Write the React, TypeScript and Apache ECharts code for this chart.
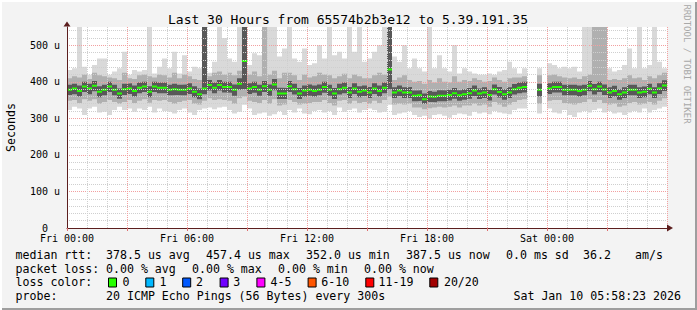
import React, { useEffect, useRef } from 'react';
import * as echarts from 'echarts';

// ---- data (values in microseconds, one bin = 15 minutes, 120 bins = 30 hours) ----
const BIN_HOURS = 0.25;

const medianRtt = [
  378, 382, 375, 387, 382, 389, 373, 378, 387, 378,
  368, 380, 382, 375, 384, 387, 373, 387, 384, 384,
  378, 380, 378, 378, 382, 373, 366, 382, 391, 384,
  391, 386, 386, 378, 395, 457, 382, 386, 378, 388,
  378, 393, 368, 368, 388, 380, 368, 376, 378, 375,
  378, 386, 378, 368, 380, 384, 371, 382, 373, 376,
  371, 382, 375, 384, 434, 371, 376, 371, 371, 362,
  363, 352, 360, 359, 362, 362, 364, 369, 363, 366,
  369, 376, 368, 371, 364, 380, 372, 366, 371, 380,
  384, 386, null, null, 378, null, 382, 386, 386, 378,
  378, 378, 375, 378, 389, 380, 387, 379, 371, 375,
  366, 371, 378, 378, 371, 373, 381, 371, 382, 390,
];

const smokeMax = [
  432, 437, 560, 441, 419, 446, 464, 464, 419, 428,
  437, 482, 419, 432, 428, 432, 560, 423, 441, 464,
  437, 482, 423, 473, 428, 441, 437, 560, 425, 455,
  560, 520, 464, 455, 560, 560, 446, 478, 473, 560,
  560, 560, 469, 491, 560, 464, 455, 491, 446, 451,
  500, 464, 560, 473, 482, 464, 560, 482, 560, 455,
  464, 482, 500, 560, 560, 469, 455, 500, 437, 464,
  437, 428, 560, 437, 473, 437, 428, 500, 423, 437,
  428, 423, 419, 419, 423, 419, 428, 432, 455, 437,
  423, 437, null, null, 437, null, 451, 446, 437, 441,
  437, 441, 428, 560, 560, 560, 560, 560, 437, 428,
  432, 446, 491, 437, 560, 437, 446, 560, 455, 437,
];

const smokeHi2 = [
  410, 415, 412, 420, 408, 425, 418, 415, 412, 410,
  405, 425, 410, 408, 418, 420, 415, 412, 420, 418,
  412, 425, 410, 420, 415, 408, 405, 560, 415, 425,
  428, 420, 425, 418, 430, 560, 420, 428, 415, 560,
  420, 430, 410, 425, 425, 418, 405, 420, 412, 415,
  425, 420, 418, 410, 415, 422, 410, 420, 415, 410,
  410, 418, 425, 420, 560, 405, 412, 418, 405, 400,
  402, 395, 405, 398, 410, 400, 398, 415, 400, 405,
  402, 410, 405, 400, 402, 412, 405, 400, 410, 412,
  412, 415, null, null, 418, null, 418, 420, 415, 412,
  410, 412, 408, 415, 420, 560, 560, 560, 405, 408,
  405, 410, 418, 410, 412, 405, 415, 410, 418, 425,
];

const smokeHi1 = [
  392, 395, 390, 400, 395, 402, 388, 392, 400, 392,
  382, 395, 396, 390, 398, 400, 388, 400, 398, 398,
  392, 395, 392, 393, 396, 388, 382, 560, 405, 398,
  405, 400, 400, 393, 410, 560, 396, 400, 392, 402,
  393, 408, 384, 383, 402, 395, 383, 390, 393, 390,
  393, 400, 392, 383, 395, 398, 386, 396, 388, 390,
  386, 396, 390, 398, 560, 385, 390, 385, 386, 376,
  377, 368, 375, 373, 377, 376, 378, 383, 377, 380,
  383, 390, 382, 385, 378, 393, 386, 380, 385, 394,
  398, 400, null, null, 395, null, 396, 400, 400, 392,
  392, 392, 390, 392, 402, 394, 400, 393, 385, 389,
  380, 385, 392, 392, 385, 387, 395, 385, 396, 404,
];

const smokeLo1 = [
  364, 366, 360, 372, 366, 374, 358, 363, 372, 363,
  354, 364, 367, 360, 369, 372, 358, 372, 369, 369,
  363, 364, 363, 363, 367, 358, 352, 366, 376, 369,
  376, 371, 370, 362, 378, 380, 367, 370, 362, 372,
  362, 377, 353, 353, 372, 365, 353, 360, 362, 360,
  363, 370, 362, 353, 365, 369, 356, 367, 358, 361,
  356, 367, 360, 369, 380, 356, 361, 356, 356, 347,
  348, 340, 345, 344, 347, 347, 349, 354, 348, 351,
  354, 361, 353, 356, 349, 365, 357, 351, 356, 365,
  369, 371, null, null, 360, null, 367, 371, 371, 363,
  363, 363, 360, 363, 374, 365, 372, 364, 356, 360,
  351, 356, 363, 363, 356, 358, 366, 356, 367, 375,
];

const smokeLo2 = [
  348, 350, 342, 352, 348, 352, 340, 345, 350, 345,
  340, 345, 350, 342, 348, 352, 343, 350, 348, 350,
  345, 340, 345, 348, 350, 340, 338, 348, 355, 350,
  352, 350, 348, 340, 355, 360, 348, 345, 342, 350,
  340, 352, 335, 338, 350, 345, 338, 340, 342, 345,
  345, 350, 342, 335, 348, 350, 340, 348, 342, 345,
  340, 348, 342, 350, 360, 338, 340, 338, 340, 330,
  330, 325, 328, 330, 332, 330, 332, 335, 330, 335,
  335, 340, 335, 338, 332, 345, 338, 332, 338, 345,
  350, 352, null, null, 340, null, 348, 350, 350, 342,
  340, 338, 342, 345, 352, 345, 350, 342, 338, 340,
  332, 335, 342, 345, 338, 340, 345, 338, 348, 355,
];

const smokeMin = [
  323, 332, 327, 309, 327, 332, 316, 318, 309, 323,
  332, 323, 327, 318, 327, 323, 332, 316, 327, 320,
  318, 313, 323, 327, 316, 309, 323, 327, 330, 325,
  330, 332, 323, 313, 318, 337, 327, 309, 313, 316,
  307, 311, 320, 309, 323, 316, 327, 313, 311, 320,
  323, 316, 320, 309, 330, 318, 323, 327, 316, 323,
  327, 323, 316, 318, 337, 309, 313, 316, 320, 309,
  304, 307, 299, 309, 311, 307, 302, 309, 313, 311,
  307, 318, 313, 316, 311, 320, 316, 313, 311, 323,
  327, 327, null, null, 313, null, 327, 316, 313, 323,
  309, 304, 316, 320, 316, 323, 327, 316, 320, 313,
  316, 309, 316, 320, 316, 327, 316, 323, 327, 332,
];

const xTickHours = [0, 6, 12, 18, 24];
const xTickLabels = ['Fri 00:00', 'Fri 06:00', 'Fri 12:00', 'Fri 18:00', 'Sat 00:00'];
const yTickValues = [0, 100, 200, 300, 400, 500];
const yTickLabels = ['0', '100 u', '200 u', '300 u', '400 u', '500 u'];

const lossLabels = ['0', '1', '2', '3', '4-5', '6-10', '11-19', '20/20'];
const lossColors = ['#26ff00', '#00b8ff', '#0059ff', '#7000ff', '#ff00ff', '#ff5500', '#ff0000', '#a10000'];

// ---- helpers ----
const MONO = "'DejaVu Sans Mono', monospace";

function stepData(arr: (number | null)[]) {
  const out: any[] = [];
  arr.forEach((v, i) => {
    const x0 = i * BIN_HOURS;
    const x1 = (i + 1) * BIN_HOURS;
    if (v == null) {
      out.push([x0, null]);
      return;
    }
    out.push([x0, v], [x1, v]);
  });
  return out;
}

function dashData(arr: (number | null)[]) {
  const out: any[] = [];
  arr.forEach((v, i) => {
    const x0 = i * BIN_HOURS;
    const x1 = (i + 1) * BIN_HOURS;
    if (v == null) return;
    out.push([x0, v], [x1, v], [x1, null]);
  });
  return out;
}

function band(name: string, arr: (number | null)[], color: string) {
  return {
    name,
    type: 'line',
    data: stepData(arr),
    symbol: 'none',
    showSymbol: false,
    silent: true,
    connectNulls: false,
    lineStyle: { width: 0, opacity: 0 },
    areaStyle: { color, opacity: 1, origin: 'start' },
    z: 2,
  };
}

function txt(text: string, x: number, y: number, extra: any = {}) {
  return {
    type: 'text',
    x,
    y,
    silent: true,
    style: {
      text,
      fontFamily: MONO,
      fontSize: 11.6,
      fill: '#000',
      verticalAlign: 'middle',
      align: 'left',
      ...extra,
    },
    z: 10,
  };
}

const RED_GRID = '#f2a0a0';
const GREY_GRID = '#cfcfcf';
const AXIS_COL = '#5c1e1e';

export default function App() {
  const ref = useRef<HTMLDivElement>(null);

  useEffect(() => {
    const chart = echarts.init(ref.current!, null, { renderer: 'svg', width: 697, height: 310 });

    const graphics: any[] = [];
    graphics.push(
      txt('Last 30 Hours from 65574b2b3e12 to 5.39.191.35', 348, 19.3, { fontSize: 13, align: 'center' })
    );
    graphics.push({
      type: 'text',
      x: 11,
      y: 127.5,
      rotation: Math.PI / 2,
      silent: true,
      style: { text: 'Seconds', fontFamily: MONO, fontSize: 11.6, fill: '#000', align: 'center', verticalAlign: 'middle' },
      z: 10,
    });
    graphics.push({
      type: 'text',
      x: 687,
      y: 64,
      rotation: -Math.PI / 2,
      silent: true,
      style: { text: 'RRDTOOL / TOBI OETIKER', fontFamily: MONO, fontSize: 9, fill: '#a8a8a8', align: 'center', verticalAlign: 'middle' },
      z: 10,
    });

    // legend rows
    const r1 = 255, r2 = 268.7, r3 = 282.3, r4 = 296;
    graphics.push(txt('median rtt:', 15.5, r1));
    graphics.push(txt('378.5 us avg', 106, r1));
    graphics.push(txt('457.4 us max', 206, r1));
    graphics.push(txt('352.0 us min', 306, r1));
    graphics.push(txt('387.5 us now', 406, r1));
    graphics.push(txt('0.0 ms sd', 506, r1));
    graphics.push(txt('36.2', 583, r1));
    graphics.push(txt('am/s', 635, r1));

    graphics.push(txt('packet loss:', 15.5, r2));
    graphics.push(txt('0.00 % avg', 106, r2));
    graphics.push(txt('0.00 % max', 192, r2));
    graphics.push(txt('0.00 % min', 278, r2));
    graphics.push(txt('0.00 % now', 364, r2));

    graphics.push(txt('loss color:', 15.5, r3));
    const sqX = [108, 145.3, 182.2, 219.6, 256.4, 307.6, 365.3, 429.3];
    const lblX = [123, 160, 196.4, 233.8, 271, 321.8, 379, 444.4];
    lossLabels.forEach((l, k) => {
      graphics.push({
        type: 'rect',
        silent: true,
        shape: { x: sqX[k] + 0.5, y: 278, width: 8, height: 9 },
        style: { fill: lossColors[k], stroke: '#000', lineWidth: 1 },
        z: 10,
      });
      graphics.push(txt(l, lblX[k] - 0.5, r3));
    });

    graphics.push(txt('probe:', 15.5, r4));
    graphics.push(txt('20 ICMP Echo Pings (56 Bytes) every 300s', 106, r4));
    graphics.push(txt('Sat Jan 10 05:58:23 2026', 681, r4, { align: 'right' }));

    const option: any = {
      animation: false,
      backgroundColor: '#f3f3f3',
      grid: {
        left: 67,
        top: 27,
        width: 600,
        height: 201,
        show: true,
        backgroundColor: '#ffffff',
        borderWidth: 0,
      },
      xAxis: [
        {
          type: 'value',
          min: 0,
          max: 30,
          interval: 1,
          position: 'bottom',
          z: 5,
          axisLine: {
            show: true,
            lineStyle: { color: AXIS_COL, width: 1 },
            symbol: ['none', 'triangle'],
            symbolSize: [7, 6],
            symbolOffset: [0, 3],
          },
          axisTick: { show: false },
          axisLabel: {
            fontFamily: MONO,
            fontSize: 10,
            lineHeight: 10,
            color: '#000',
            margin: 5,
            showMaxLabel: false,
            formatter: (v: number) => {
              const r = Math.round(v);
              if (Math.abs(v - r) > 1e-6) return '';
              const k = xTickHours.indexOf(r);
              return k >= 0 ? xTickLabels[k] : '';
            },
          },
          splitLine: {
            show: true,
            lineStyle: { color: [RED_GRID, GREY_GRID, GREY_GRID], type: [1, 1], width: 1 },
          },
        },
        {
          type: 'value',
          min: 0,
          max: 30,
          interval: 3,
          position: 'bottom',
          z: 5,
          axisLine: { show: false },
          axisLabel: { show: false },
          splitLine: { show: false },
          axisTick: { show: true, length: 3, lineStyle: { color: '#e07070' } },
        },
      ],
      yAxis: [
        {
          type: 'value',
          min: 0,
          max: 550,
          interval: 20,
          z: 5,
          axisLine: {
            show: true,
            lineStyle: { color: AXIS_COL, width: 1 },
            symbol: ['none', 'triangle'],
            symbolSize: [7, 5],
            symbolOffset: [0, 3],
          },
          axisTick: { show: false },
          axisLabel: {
            fontFamily: MONO,
            fontSize: 10,
            lineHeight: 9,
            color: '#000',
            margin: 7,
            showMaxLabel: false,
            formatter: (v: number) => {
              const r = Math.round(v);
              if (Math.abs(v - r) > 1e-6) return '';
              const k = yTickValues.indexOf(r);
              if (k < 0) return '';
              return k === 0 ? '{z|' + yTickLabels[0] + '}' : yTickLabels[k];
            },
            rich: { z: { fontFamily: MONO, fontSize: 10, lineHeight: 9, color: '#000', padding: [0, 12, 0, 0] } },
          },
          splitLine: {
            show: true,
            showMaxLine: false,
            lineStyle: { color: [RED_GRID, GREY_GRID, GREY_GRID, GREY_GRID, GREY_GRID], type: [1, 1], width: 1 },
          },
        },
      ],
      series: [
        band('max', smokeMax, '#d9d9d9'),
        band('hi2', smokeHi2, '#b0b0b0'),
        band('hi1', smokeHi1, '#585858'),
        band('lo1', smokeLo1, '#b0b0b0'),
        band('lo2', smokeLo2, '#d9d9d9'),
        band('min', smokeMin, '#ffffff'),
        {
          name: 'median',
          type: 'line',
          data: dashData(medianRtt),
          symbol: 'none',
          showSymbol: false,
          silent: true,
          connectNulls: false,
          lineStyle: { color: '#26ff00', width: 2, cap: 'butt' },
          z: 3,
        },
      ],
      graphic: graphics,
    };

    chart.setOption(option);
    return () => chart.dispose();
  }, []);

  return (
    <div style={{ position: 'fixed', left: 0, top: 0, width: 697, height: 310, background: '#f3f3f3' }}>
      <div ref={ref} style={{ width: 697, height: 310 }} />
      <div
        style={{
          position: 'absolute',
          left: 0,
          top: 0,
          width: 697,
          height: 310,
          boxShadow: 'inset 2px 2px 0 #ffffff, inset -2px -2px 0 #9e9e9e',
          pointerEvents: 'none',
        }}
      />
    </div>
  );
}
